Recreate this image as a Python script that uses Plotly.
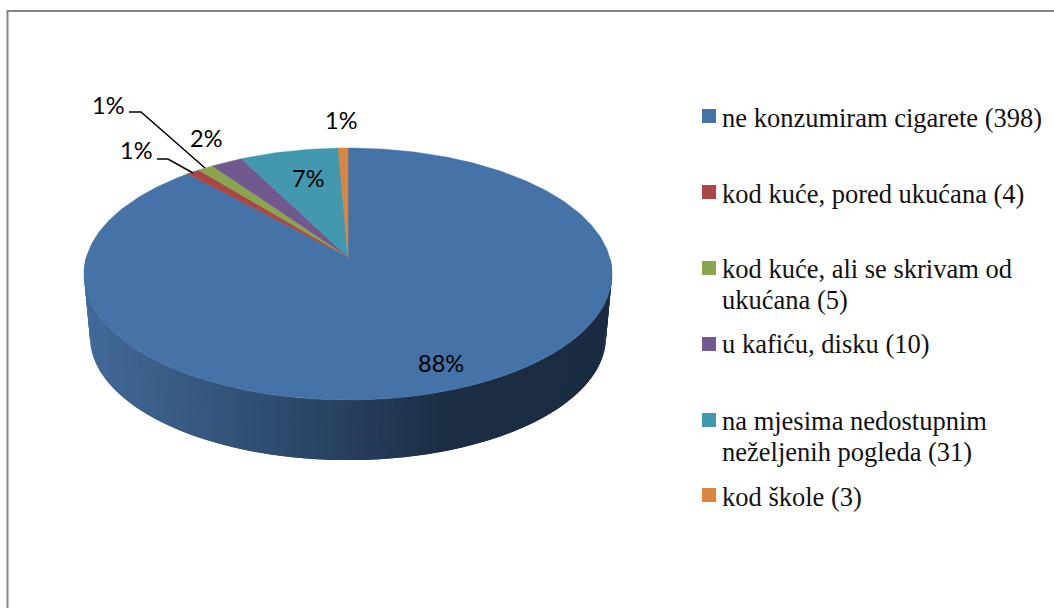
import numpy as np
import plotly.graph_objects as go

# podaci sa slike
categories = [
    ["ne konzumiram cigarete"],
    ["kod kuće, pored ukućana"],
    ["kod kuće, ali se skrivam od", "ukućana"],
    ["u kafiću, disku"],
    ["na mjesima nedostupnim", "neželjenih pogleda"],
    ["kod škole"],
]
counts = [398, 4, 5, 10, 31, 3]
colors = ["#4572A7", "#AA4643", "#89A54E", "#71588F", "#4198AF", "#DB843D"]

W, H = 1054, 608

# geometrija pite u pikselima (perspektiva)
CX, APEX_Y = 348, 257
PERSP = 0.135
RX, RY = 261.6, 123.7
BOTTOM_SCALE, BOTTOM_DY = 0.977, 63

LABEL_POS = [(441, 363), (136, 150), (108, 105), (206, 138), (308, 178), (341, 120)]
LEGEND_Y = [116, 192, 268, 344, 420, 495]
TEXT_Y = [[118], [194], [269, 300], [344], [421, 452], [497]]


def top_point(angle):
    """Tacka na gornjoj elipsi; ugao u stepenima, od 12 sati u smjeru kazaljke."""
    a = np.radians(angle)
    u, v = np.sin(a), np.cos(a)
    w = 1 + PERSP * v
    return CX + RX * u / w, APEX_Y - RY * v / w


def bottom_point(angle):
    x, y = top_point(angle)
    return CX + (x - CX) * BOTTOM_SCALE, y + (y - 274) * (BOTTOM_SCALE - 1) + BOTTOM_DY


def gradient_color(x):
    stops_x = [84, 350, 450, 612]
    r = np.interp(x, stops_x, [66, 39, 28, 27])
    g = np.interp(x, stops_x, [106, 64, 45, 44])
    b = np.interp(x, stops_x, [153, 94, 68, 66])
    return f"rgb({r:.0f},{g:.0f},{b:.0f})"


def add_poly(fig, xs, ys, color, width=0.0):
    fig.add_trace(go.Scatter(x=xs, y=ys, mode="lines", fill="toself", fillcolor=color,
                             line=dict(color=color, width=width), hoverinfo="skip", showlegend=False))


fig = go.Figure()

# bocna strana, svaka traka prekriva pocetak prethodne da nema sarki
angles = np.linspace(90, 270, 181)
for i, a0 in enumerate(angles[:-1]):
    arc = angles[i:i + 3]
    tx, ty = top_point(arc)
    bx, by = bottom_point(arc[::-1])
    add_poly(fig, [*tx, *bx, tx[0]], [*ty, *by, ty[0]], gradient_color(tx[0]))

# gornja strana, isjecci iz vrijednosti
total = sum(counts)
start = 0.0
for count, color in zip(counts, colors):
    sweep = count / total * 360
    steps = np.linspace(start, start + sweep, max(3, int(sweep) + 2))
    px, py = top_point(steps)
    add_poly(fig, [CX, *px, CX], [APEX_Y, *py, APEX_Y], color, 0.5)
    start += sweep

# linije do oznaka
for xs, ys in [([129, 141, 205], [112, 112, 168]), ([157, 168, 193], [159, 159, 173])]:
    fig.add_trace(go.Scatter(x=xs, y=ys, mode="lines", line=dict(color="black", width=1.5),
                             hoverinfo="skip", showlegend=False))

# legenda
fig.add_trace(go.Scatter(x=[709] * len(colors), y=LEGEND_Y, mode="markers",
                         marker=dict(symbol="square", size=14, color=colors, line=dict(width=0)),
                         hoverinfo="skip", showlegend=False))

for lines, count, ys in zip(categories, counts, TEXT_Y):
    for i, (line, y) in enumerate(zip(lines, ys)):
        text = f"{line} ({count})" if i == len(lines) - 1 else line
        fig.add_annotation(x=720, y=y, text=text, showarrow=False, xanchor="left", yanchor="middle",
                           font=dict(family="Liberation Serif", size=26.5, color="#111111"))

for count, (x, y) in zip(counts, LABEL_POS):
    fig.add_annotation(x=x, y=y, text=f"{count / total * 100:.0f}%", showarrow=False,
                       font=dict(family="Lato", size=23.5, color="black"))

fig.add_shape(type="rect", x0=7.5, y0=11, x1=W + 10, y1=H + 10, line=dict(color="#868686", width=2))

fig.update_layout(
    width=W, height=H, margin=dict(l=0, r=0, t=0, b=0),
    paper_bgcolor="white", plot_bgcolor="white", showlegend=False,
    xaxis=dict(range=[0, W], visible=False, fixedrange=True),
    yaxis=dict(range=[H, 0], visible=False, fixedrange=True),
)

fig.write_html("out.html", config=dict(displayModeBar=False),
               post_script="document.body.style.margin='0';document.body.style.overflow='hidden';")
